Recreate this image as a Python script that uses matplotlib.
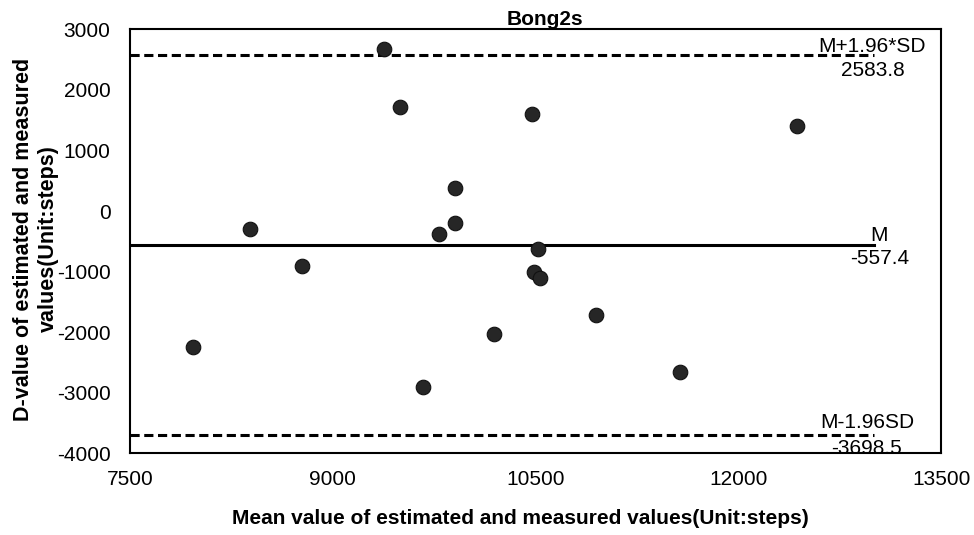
import matplotlib
matplotlib.use("Agg")
import matplotlib.pyplot as plt

plt.rcParams['font.family'] = ['Liberation Sans', 'DejaVu Sans']
plt.rcParams['axes.unicode_minus'] = False

# Data
mean_vals = [9380, 9496, 10475, 9905, 9905, 9787, 8389, 10514,
             7968, 8769, 9669, 10189, 10487, 10534, 10943, 12429, 11567]
diff_vals = [2675, 1712, 1607, 385, -193, -385, -302, -632,
             -2240, -903, -2901, -2031, -1002, -1101, -1712, 1409, -2663]
mean_diff = -557.4
upper_loa = 2583.8
lower_loa = -3698.5
line_x = [7500, 13000]
x_ticks = [7500, 9000, 10500, 12000, 13500]
y_ticks = [-4000, -3000, -2000, -1000, 0, 1000, 2000, 3000]

fig = plt.figure(figsize=(9.74, 5.35), dpi=100)
ax = fig.add_axes([0.1335, 0.1527, 0.8331, 0.7925])

ax.plot(line_x, [upper_loa, upper_loa], color='black', lw=2.2, dashes=[3, 1.5])
ax.plot(line_x, [mean_diff, mean_diff], color='black', lw=2.2)
ax.plot(line_x, [lower_loa, lower_loa], color='black', lw=2.2, dashes=[3, 1.5])

ax.scatter(mean_vals, diff_vals, s=110, color='#262626', edgecolors='#111111',
           linewidths=0.8, zorder=3)

def lab(y, top, bottom, dx, up=8, down=-10):
    ax.annotate(top, (line_x[1], y), xytext=(dx, up), textcoords='offset points',
                ha='center', va='center', fontsize=15)
    ax.annotate(bottom, (line_x[1], y), xytext=(dx, down), textcoords='offset points',
                ha='center', va='center', fontsize=15)

lab(upper_loa, 'M+1.96*SD', f'{upper_loa}', -1, 6, -11.5)
lab(mean_diff, 'M', f'{mean_diff}', 4, 7, -10)
lab(lower_loa, 'M-1.96SD', f'{lower_loa}', -5, 9, -9.5)

ax.set_xlim(7500, 13500)
ax.set_ylim(-4000, 3000)
ax.set_xticks(x_ticks)
ax.set_yticks(y_ticks)
ax.tick_params(axis='both', length=0, labelsize=15)
ax.tick_params(axis='y', pad=14)
ax.tick_params(axis='x', pad=12)
for s in ax.spines.values():
    s.set_linewidth(1.5)

ax.set_title('Bong2s', fontsize=15, fontweight='bold', pad=2, x=0.5114)
fig.text(520 / 974, 1 - 518 / 535,
         'Mean value of estimated and measured values(Unit:steps)',
         fontsize=15, fontweight='bold', ha='center', va='center')
fig.text(36 / 974, 1 - 239 / 535,
         'D-value of estimated and measured\nvalues(Unit:steps)',
         fontsize=15.5, fontweight='bold', ha='center', va='center',
         rotation=90, linespacing=1.3, multialignment='center')

fig.savefig('out.png', dpi=100, facecolor='white')
